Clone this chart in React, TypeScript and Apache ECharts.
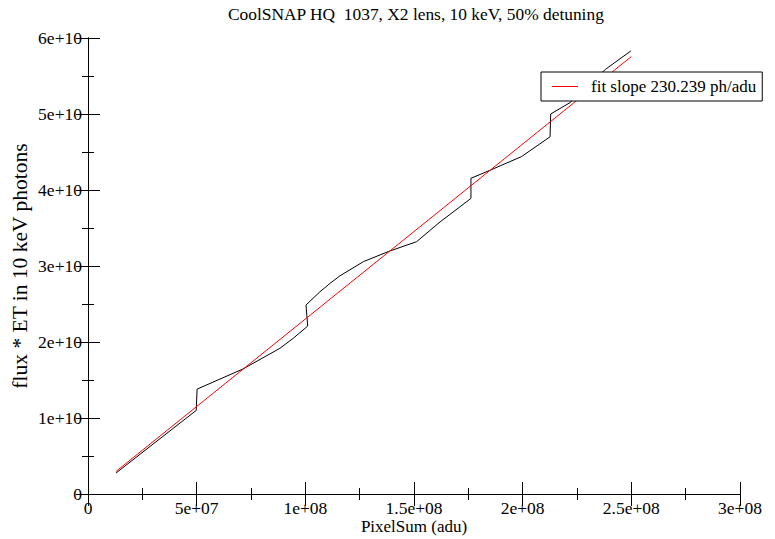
import React, { useEffect, useRef } from "react";
import * as echarts from "echarts";

const titleText = "CoolSNAP HQ  1037, X2 lens, 10 keV, 50% detuning";
const xName = "PixelSum (adu)";
const yName = "flux * ET in 10 keV photons";
const fitName = "fit slope 230.239 ph/adu";

const xTickLabels = ["0", "5e+07", "1e+08", "1.5e+08", "2e+08", "2.5e+08", "3e+08"];
const yTickLabels = ["0", "1e+10", "2e+10", "3e+10", "4e+10", "5e+10", "6e+10"];

// measured curve (black)
const pixelSum = [
  12.9e6, 49.8e6, 50.2e6, 71.3e6, 88.3e6, 94.5e6, 101.1e6, 100.3e6, 106.7e6, 111.3e6,
  115.9e6, 126.7e6, 138.2e6, 151.2e6, 162.0e6, 171.2e6, 176.2e6, 176.2e6, 185.0e6,
  199.5e6, 212.6e6, 212.9e6, 221.8e6, 238.2e6, 249.8e6,
];
const photons = [
  0.276e10, 1.1e10, 1.38e10, 1.645e10, 1.917e10, 2.05e10, 2.21e10, 2.487e10, 2.66e10, 2.77e10,
  2.87e10, 3.057e10, 3.19e10, 3.32e10, 3.58e10, 3.78e10, 3.89e10, 4.154e10, 4.26e10,
  4.44e10, 4.7e10, 5.0e10, 5.15e10, 5.59e10, 5.83e10,
];

// fit line (red) end points
const fitX = [12.9e6, 250e6];
const fitY = [0.297e10, 5.756e10];

const FONT = "Liberation Serif";

export default function App() {
  const ref = useRef<HTMLDivElement>(null);
  useEffect(() => {
    if (!ref.current) return;
    const chart = echarts.init(ref.current, undefined, { renderer: "svg" });
    const axisCommon = {
      min: 0,
      axisLine: { show: true, lineStyle: { color: "#000", width: 1 } },
      axisTick: { show: true, inside: true, length: 12, lineStyle: { color: "#000" } },
      minorTick: { show: true, splitNumber: 2, length: 6, lineStyle: { color: "#000" } },
      splitLine: { show: false },
      minorSplitLine: { show: false },
    };
    chart.setOption({
      animation: false,
      backgroundColor: "#fff",
      title: {
        text: titleText,
        left: 228,
        top: 5,
        padding: 0,
        textStyle: { fontFamily: FONT, fontSize: 17.4, fontWeight: "normal", color: "#000" },
      },
      legend: {
        data: [{ name: fitName, icon: "rect", itemStyle: { color: "#ff0000" } }],
        left: 541,
        top: 72,
        itemWidth: 26,
        itemHeight: 1,
        padding: [6, 6, 6, 11],
        backgroundColor: "#fff",
        borderColor: "#000",
        borderWidth: 1,
        borderRadius: 0,
        selectedMode: false,
        textStyle: { fontFamily: FONT, fontSize: 17, color: "#000", padding: [0, 0, 0, 8] },
      },
      grid: {
        left: 88,
        top: 38,
        right: 35,
        bottom: 45,
        containLabel: false,
        outerBoundsMode: "none",
      },
      xAxis: [
        {
          ...axisCommon,
          type: "value",
          max: 3e8,
          interval: 5e7,
          position: "bottom",
          name: xName,
          nameLocation: "middle",
          nameGap: 24,
          nameMoveOverlap: false,
          nameTextStyle: { fontFamily: FONT, fontSize: 17, lineHeight: 17, color: "#000" },
          axisLabel: {
            show: true,
            margin: 6,
            fontFamily: FONT,
            fontSize: 17.5,
            lineHeight: 16,
            color: "#000",
            formatter: (v: number) => xTickLabels[Math.round(v / 5e7)] ?? "",
          },
        },
        {
          ...axisCommon,
          type: "value",
          max: 3e8,
          interval: 5e7,
          position: "top",
          axisLabel: { show: false },
        },
      ],
      yAxis: [
        {
          ...axisCommon,
          type: "value",
          max: 6e10,
          interval: 1e10,
          position: "left",
          name: yName,
          nameLocation: "middle",
          nameGap: 57,
          nameMoveOverlap: false,
          nameTextStyle: { fontFamily: FONT, fontSize: 21.5, color: "#000" },
          axisLabel: {
            show: true,
            margin: 6,
            fontFamily: FONT,
            fontSize: 17.5,
            color: "#000",
            formatter: (v: number) => yTickLabels[Math.round(v / 1e10)] ?? "",
          },
        },
        {
          ...axisCommon,
          type: "value",
          max: 6e10,
          interval: 1e10,
          position: "right",
          axisLabel: { show: false },
        },
      ],
      series: [
        {
          name: "data",
          type: "line",
          xAxisIndex: 0,
          yAxisIndex: 0,
          symbol: "none",
          smooth: false,
          lineStyle: { color: "#000", width: 1 },
          data: pixelSum.map((x, i) => [x, photons[i]]),
        },
        {
          name: fitName,
          type: "line",
          xAxisIndex: 0,
          yAxisIndex: 0,
          symbol: "none",
          itemStyle: { color: "#ff0000" },
          lineStyle: { color: "#ff0000", width: 1 },
          data: fitX.map((x, i) => [x, fitY[i]]),
        },
      ],
    });
    return () => chart.dispose();
  }, []);
  return (
    <div
      ref={ref}
      style={{ position: "fixed", left: 0, top: 0, width: 775, height: 539, background: "#fff" }}
    />
  );
}
